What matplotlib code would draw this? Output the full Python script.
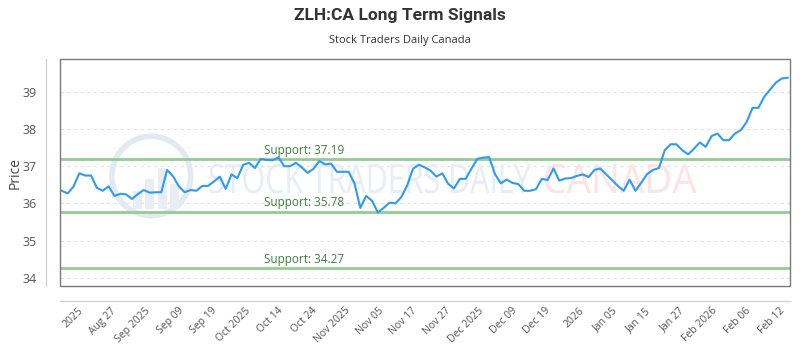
import numpy as np
import matplotlib
matplotlib.use("Agg")
import matplotlib.pyplot as plt
from matplotlib.patches import Rectangle, Ellipse, PathPatch
from matplotlib.textpath import TextPath
from matplotlib.font_manager import FontProperties
from matplotlib.transforms import Affine2D
from matplotlib import font_manager

# closing prices, one per trading day
prices = [
    36.34, 36.27, 36.45, 36.81, 36.75, 36.75, 36.42, 36.34, 36.46, 36.20,
    36.26, 36.24, 36.12, 36.25, 36.36, 36.29, 36.30, 36.30, 36.90, 36.73,
    36.46, 36.30, 36.36, 36.34, 36.47, 36.47, 36.59, 36.72, 36.39, 36.78,
    36.68, 37.04, 37.09, 36.95, 37.20, 37.17, 37.16, 37.24, 37.00, 37.00,
    37.09, 36.97, 36.82, 36.93, 37.14, 37.05, 37.07, 36.85, 36.85, 36.85,
    36.54, 35.88, 36.20, 36.07, 35.76, 35.88, 36.02, 36.00, 36.17, 36.48,
    36.93, 37.04, 36.97, 36.88, 36.72, 36.81, 36.53, 36.40, 36.66, 36.66,
    36.94, 37.20, 37.23, 37.25, 36.79, 36.54, 36.64, 36.55, 36.52, 36.34,
    36.34, 36.38, 36.66, 36.63, 36.94, 36.61, 36.67, 36.68, 36.74, 36.78,
    36.71, 36.90, 36.94, 36.78, 36.63, 36.47, 36.34, 36.64, 36.34, 36.56,
    36.79, 36.90, 36.95, 37.43, 37.59, 37.59, 37.43, 37.32, 37.47, 37.64,
    37.52, 37.81, 37.88, 37.70, 37.70, 37.88, 37.97, 38.19, 38.57, 38.57,
    38.87, 39.06, 39.25, 39.36, 39.38,
]

tick_labels = [
    "2025", "Aug 27", "Sep 2025", "Sep 09", "Sep 19", "Oct 2025", "Oct 14",
    "Oct 24", "Nov 2025", "Nov 05", "Nov 17", "Nov 27", "Dec 2025", "Dec 09",
    "Dec 19", "2026", "Jan 05", "Jan 15", "Jan 27", "Feb 2026", "Feb 06", "Feb 12",
]

support_levels = [37.19, 35.78, 34.27]

names = {f.name for f in font_manager.fontManager.ttflist}
base_font = "Open Sans" if "Open Sans" in names else "DejaVu Sans"
title_font = "Roboto" if "Roboto" in names else "DejaVu Sans"
plt.rcParams["font.family"] = [base_font, "DejaVu Sans"]

fig = plt.figure(figsize=(8, 3.5), dpi=100)
ax = fig.add_axes([0.075, 0.183, 0.9125, 0.648])

# spines first: set_position resets the ticks
ax.spines["top"].set_visible(False)
ax.spines["right"].set_visible(False)
ax.spines["left"].set_position(("outward", 10))
ax.spines["bottom"].set_position(("outward", 11))
for s in ("left", "bottom"):
    ax.spines[s].set_color("#cccccc")
ax.add_patch(Rectangle((0, 0), 1, 1, transform=ax.transAxes, fill=False,
                       ec="#7a7a7a", lw=1, clip_on=False, zorder=7))


def watermark(text, x0, y0, w, h, color):
    # squeezed text drawn as a path so it looks condensed
    tp = TextPath((0, 0), text, size=1, prop=FontProperties(family=base_font))
    ext = tp.get_extents()
    tr = Affine2D().translate(-ext.x0, 0).scale(w / ext.width, h / 0.72).translate(x0, y0)
    ax.add_patch(PathPatch(tp, transform=tr + ax.transAxes, fc=color, ec="none", zorder=1))


ax.add_patch(Ellipse((0.125, 0.485), 0.108, 0.35, transform=ax.transAxes,
                     fill=False, ec="#e3e9f2", lw=4, zorder=1))
for bx, bh in zip([0.100, 0.117, 0.134, 0.151], [0.08, 0.13, 0.18, 0.11]):
    ax.add_patch(Rectangle((bx, 0.34), 0.012, bh, transform=ax.transAxes,
                           fc="#e9eef5", ec="none", zorder=1))
watermark("STOCK TRADERS DAILY", 0.205, 0.41, 0.44, 0.127, "#e6edf6")
watermark("CANADA", 0.664, 0.41, 0.208, 0.127, "#fde3e3")

x = np.arange(len(prices))
ax.plot(x, prices, color="#2f9bf0", lw=1.5, zorder=5)

for lvl in support_levels:
    ax.axhline(lvl, color="#94cc94", lw=2, zorder=3)
    ax.text(0.279, lvl + 0.06, f"Support: {lvl:.2f}", color="#3d7f3d",
            fontsize=8.5, transform=ax.get_yaxis_transform(), va="bottom", zorder=6)

ax.set_xlim(-0.3, len(prices) - 0.6)
ax.set_ylim(33.78, 39.88)
ax.set_yticks([34, 35, 36, 37, 38, 39])
ax.grid(axis="y", color="#e2e2e2", ls=(0, (3, 3)), lw=0.8)
ax.set_axisbelow(True)

ax.set_xticks(np.linspace(2.7, 122.5, len(tick_labels)))
ax.set_xticklabels(tick_labels, rotation=45, ha="right", rotation_mode="anchor")
ax.tick_params(axis="both", length=0, labelcolor="#555555")
ax.tick_params(axis="x", pad=3, labelsize=7.5)
ax.tick_params(axis="y", pad=7, labelsize=9)

ax.set_ylabel("Price", fontsize=10, color="#444444")
ax.yaxis.set_label_coords(-0.051, 0.5)

fig.text(0.5, 0.955, "ZLH:CA Long Term Signals", ha="center", va="center",
         fontsize=12.5, fontweight="bold", color="#333333", family=title_font)
fig.text(0.5, 0.885, "Stock Traders Daily Canada", ha="center", va="center",
         fontsize=8, color="#333333")

fig.savefig("out.png", dpi=100)
